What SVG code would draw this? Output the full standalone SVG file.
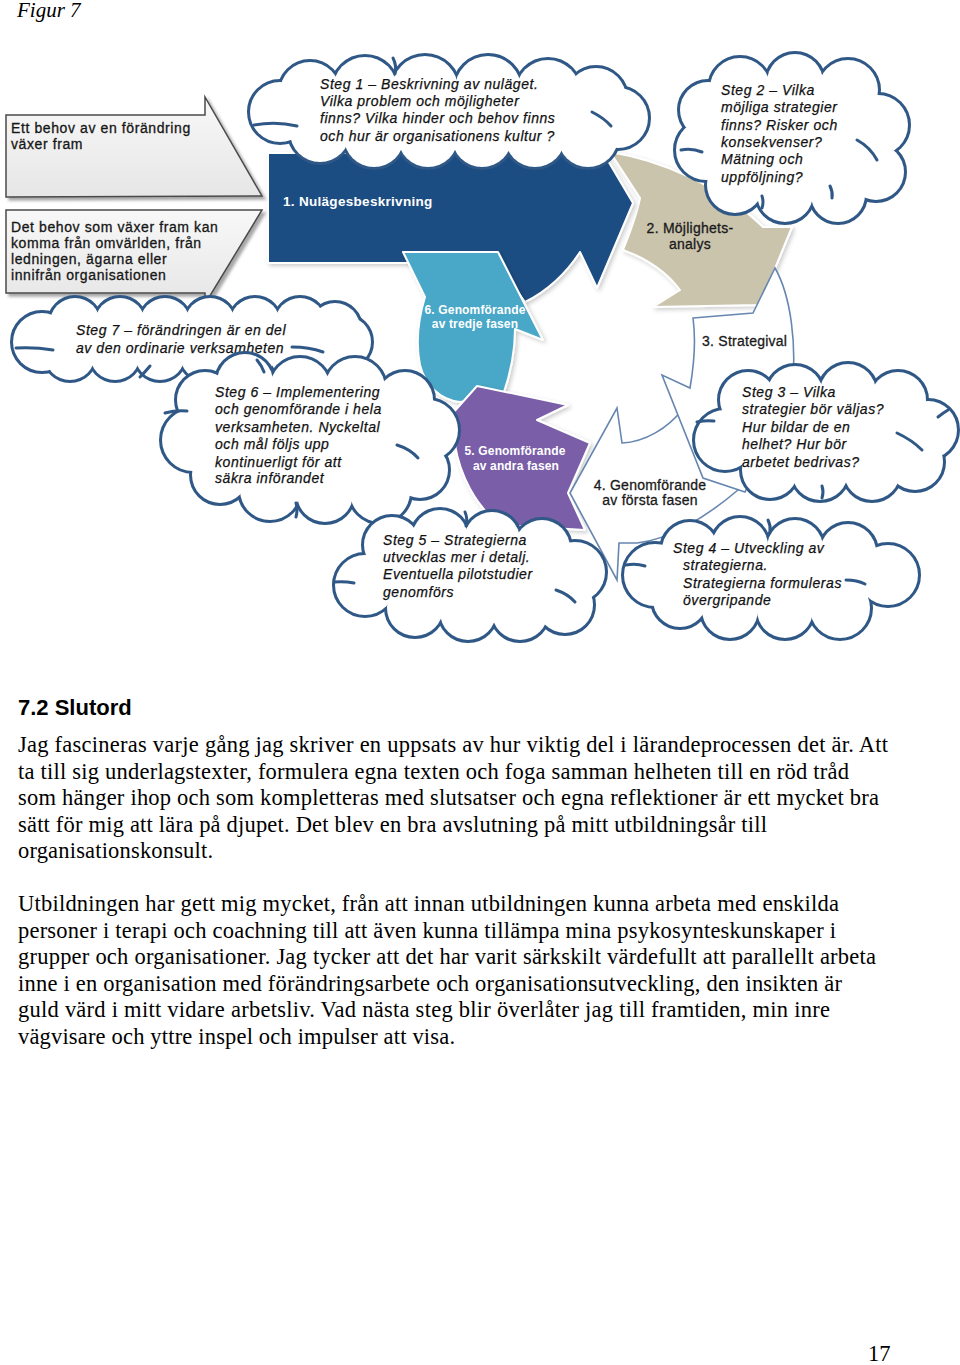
<svg xmlns="http://www.w3.org/2000/svg" xmlns:xlink="http://www.w3.org/1999/xlink" width="960" height="1365" viewBox="0 0 960 1365">
<style>
.sans{font-family:"Liberation Sans",Arial,sans-serif}
.lbl{font-family:"Liberation Sans",Arial,sans-serif;font-size:14px;letter-spacing:0.25px;fill:#1a1a1a;stroke:#1a1a1a;stroke-width:0.3}
.wl{font-family:"Liberation Sans",Arial,sans-serif;font-size:12px;font-weight:bold;letter-spacing:0.15px;fill:#ffffff}
.cl{font-family:"Liberation Sans",Arial,sans-serif;font-size:14px;font-style:italic;letter-spacing:0.55px;fill:#111;stroke:#111;stroke-width:0.25}
.bl{font-family:"Liberation Sans",Arial,sans-serif;font-size:14px;letter-spacing:0.6px;fill:#161616;stroke:#161616;stroke-width:0.3}
.body{font-family:"Liberation Serif","Times New Roman",serif;font-size:22.5px;fill:#000}
.co{fill:#2f5886;stroke:#2f5886;stroke-width:6}
.cf{fill:#ffffff;stroke:none}
.ca{fill:none;stroke:#2f5886;stroke-width:3;stroke-linecap:round}
.blk{fill:url(#gg);stroke:#4a4a4a;stroke-width:1.5;filter:url(#sh)}
.wa{fill:#ffffff;stroke:#6787b0;stroke-width:1.6;stroke-linejoin:miter}
.ca2{stroke:#ffffff;stroke-width:2;stroke-linejoin:round}
</style>
<defs>
<filter id="sh" x="-10%" y="-10%" width="130%" height="130%"><feDropShadow dx="3" dy="3" stdDeviation="1.5" flood-color="#000" flood-opacity="0.35"/></filter>
<filter id="sh2" x="-10%" y="-10%" width="130%" height="130%"><feDropShadow dx="2" dy="2" stdDeviation="2" flood-color="#000" flood-opacity="0.2"/></filter>
<linearGradient id="gg" x1="0" y1="0" x2="0" y2="1"><stop offset="0" stop-color="#f8f8f8"/><stop offset="1" stop-color="#e6e6e6"/></linearGradient>
<g id="cs1"><circle cx="280" cy="112" r="30"/><circle cx="310" cy="92" r="30"/><circle cx="365" cy="89" r="32"/><circle cx="425" cy="89" r="33"/><circle cx="488" cy="89" r="33"/><circle cx="548" cy="92" r="32"/><circle cx="596" cy="98" r="30"/><circle cx="618" cy="118" r="30"/><circle cx="588" cy="137" r="30"/><circle cx="535" cy="137" r="30"/><circle cx="482" cy="137" r="30"/><circle cx="428" cy="137" r="30"/><circle cx="374" cy="137" r="30"/><circle cx="320" cy="132" r="30"/></g>
<g id="cs2"><circle cx="708" cy="110" r="28"/><circle cx="740" cy="88" r="30"/><circle cx="795" cy="82" r="28"/><circle cx="848" cy="90" r="30"/><circle cx="878" cy="125" r="30"/><circle cx="876" cy="172" r="28"/><circle cx="838" cy="195" r="27"/><circle cx="785" cy="194" r="28"/><circle cx="735" cy="185" r="28"/><circle cx="706" cy="150" r="30"/></g>
<g id="cs3"><circle cx="725" cy="440" r="30"/><circle cx="748" cy="400" r="28"/><circle cx="795" cy="394" r="28"/><circle cx="848" cy="392" r="28"/><circle cx="898" cy="400" r="28"/><circle cx="928" cy="430" r="29"/><circle cx="915" cy="462" r="28"/><circle cx="872" cy="472" r="28"/><circle cx="820" cy="472" r="28"/><circle cx="770" cy="470" r="28"/></g>
<g id="cs4"><circle cx="655" cy="575" r="31"/><circle cx="690" cy="550" r="28"/><circle cx="740" cy="546" r="28"/><circle cx="795" cy="548" r="28"/><circle cx="848" cy="552" r="28"/><circle cx="888" cy="575" r="30"/><circle cx="840" cy="608" r="30"/><circle cx="785" cy="610" r="28"/><circle cx="730" cy="610" r="28"/><circle cx="680" cy="600" r="27"/></g>
<g id="cs5"><circle cx="365" cy="585" r="30"/><circle cx="392" cy="545" r="28"/><circle cx="440" cy="538" r="28"/><circle cx="492" cy="540" r="28"/><circle cx="542" cy="548" r="28"/><circle cx="575" cy="572" r="30"/><circle cx="565" cy="605" r="28"/><circle cx="520" cy="612" r="28"/><circle cx="468" cy="612" r="28"/><circle cx="415" cy="608" r="28"/></g>
<g id="cs6"><circle cx="193" cy="440" r="31"/><circle cx="205" cy="400" r="28"/><circle cx="245" cy="382" r="28"/><circle cx="300" cy="388" r="30"/><circle cx="355" cy="388" r="30"/><circle cx="405" cy="400" r="28"/><circle cx="428" cy="430" r="30"/><circle cx="420" cy="470" r="28"/><circle cx="380" cy="492" r="30"/><circle cx="325" cy="494" r="28"/><circle cx="270" cy="490" r="30"/><circle cx="220" cy="475" r="28"/></g>
<g id="cs7"><circle cx="42" cy="342" r="29"/><circle cx="75" cy="323" r="25"/><circle cx="120" cy="323" r="25"/><circle cx="165" cy="323" r="25"/><circle cx="210" cy="323" r="25"/><circle cx="255" cy="323" r="25"/><circle cx="300" cy="323" r="25"/><circle cx="335" cy="328" r="25"/><circle cx="345" cy="342" r="26"/><circle cx="335" cy="355" r="25"/><circle cx="295" cy="355" r="25"/><circle cx="250" cy="355" r="25"/><circle cx="205" cy="355" r="25"/><circle cx="160" cy="355" r="25"/><circle cx="115" cy="355" r="25"/><circle cx="70" cy="355" r="25"/></g>
</defs>
<rect x="0" y="0" width="960" height="1365" fill="#ffffff"/>
<text x="17" y="17" font-family="Liberation Serif,'Times New Roman',serif" font-style="italic" font-size="21" fill="#000">Figur 7</text>

<g id="connectors">
<g id="arrow2" filter="url(#sh2)"><path d="M610,152 C660,160 720,185 763,227 L792,227 L760,305 L653,307 L680,290 C665,270 645,258 623,250 C630,232 637,215 640,198 Z" fill="#cbc4ad" class="ca2"/></g>
<g id="arrow1" filter="url(#sh2)"><path d="M268,153 L600,153 L601,149 L633,203 L597,288 L580,252 C565,275 545,292 525,302 L497,263 L268,263 Z" fill="#1f4d82" class="ca2"/></g>
<g id="arrow6" filter="url(#sh2)"><path d="M403,252 L498,252 L543,340 L515,329 C515,355 510,375 503,395 L460,402 C440,400 425,385 420,365 C416,345 418,320 425,297 Z" fill="#4aa7c7" class="ca2"/></g>
<g id="arrow5" filter="url(#sh2)"><path d="M477,386 L568,405 L537,420 L590,443 L568,493 L585,530 L500,525 C475,505 460,475 455,445 C453,430 452,420 452,414 Z" fill="#7a5ea8" class="ca2"/></g>
<g id="arrow4"><path class="wa" d="M617,408 L622,443 C645,442 668,428 682,410 L745,480 L738,490 C705,518 668,540 637,543 L619,543 L617,580 L570,493 Z"/></g>
<g id="arrow3"><path class="wa" d="M693,318 L753,313 L775,268 C791,296 797,345 792,390 L745,492 L703,478 L662,375 L690,388 C694,365 696,340 693,318 Z"/></g>
</g>

<g id="labels-arrows">
<text class="wl" x="283" y="206" style="font-size:13.5px;letter-spacing:0.3px">1. Nulägesbeskrivning</text>
<text class="lbl" x="690" y="233" text-anchor="middle">2. Möjlighets-</text>
<text class="lbl" x="690" y="249" text-anchor="middle">analys</text>
<text class="lbl" x="702" y="346">3. Strategival</text>
<text class="lbl" x="650" y="490" text-anchor="middle">4. Genomförande</text>
<text class="lbl" x="650" y="505" text-anchor="middle">av första fasen</text>
<text class="wl" x="515" y="455" text-anchor="middle">5. Genomförande</text>
<text class="wl" x="516" y="470" text-anchor="middle">av andra fasen</text>
<text class="wl" x="475" y="314" text-anchor="middle">6. Genomförande</text>
<text class="wl" x="475" y="328" text-anchor="middle">av tredje fasen</text>
</g>

<g id="need1">
<path class="blk" d="M6,115 L205,115 L205,97 L262,196 L6,197 Z"/>
<text class="bl" x="11" y="133">Ett behov av en förändring</text>
<text class="bl" x="11" y="149">växer fram</text>
</g>
<g id="need2">
<path class="blk" d="M6,210 L262,210 L205,304 L205,293 L6,293 Z"/>
<text class="bl" x="11" y="232">Det behov som växer fram kan</text>
<text class="bl" x="11" y="248">komma från omvärlden, från</text>
<text class="bl" x="11" y="264">ledningen, ägarna eller</text>
<text class="bl" x="11" y="280">innifrån organisationen</text>
</g>

<g id="cloud1">
<use href="#cs1" class="co"/><use href="#cs1" class="cf"/>
<polygon class="cf" points="280,112 310,92 365,89 425,89 488,89 548,92 596,98 618,118 588,137 535,137 482,137 428,137 374,137 320,132"/>
<path class="ca" d="M254,125 Q276,121 297,126"/><path class="ca" d="M592,112 Q604,118 611,126"/><path class="ca" d="M393,58 Q397,66 395,74"/>
<text class="cl" x="320" y="89">Steg 1 – Beskrivning av nuläget.</text>
<text class="cl" x="320" y="106">Vilka problem och möjligheter</text>
<text class="cl" x="320" y="123">finns? Vilka hinder och behov finns</text>
<text class="cl" x="320" y="141">och hur är organisationens kultur ?</text>
</g>

<g id="cloud2">
<use href="#cs2" class="co"/><use href="#cs2" class="cf"/>
<polygon class="cf" points="708,110 740,88 795,82 848,90 878,125 876,172 838,195 785,194 735,185 706,150"/>
<path class="ca" d="M681,150 Q692,148 702,152"/><path class="ca" d="M857,140 Q870,147 877,160"/><path class="ca" d="M762,196 Q764,202 762,208"/><path class="ca" d="M830,186 Q833,192 832,198"/>
<text class="cl" x="721" y="95">Steg 2 – Vilka</text>
<text class="cl" x="721" y="112">möjliga strategier</text>
<text class="cl" x="721" y="130">finns? Risker och</text>
<text class="cl" x="721" y="147">konsekvenser?</text>
<text class="cl" x="721" y="164">Mätning och</text>
<text class="cl" x="721" y="182">uppföljning?</text>
</g>

<g id="cloud7">
<use href="#cs7" class="co"/><use href="#cs7" class="cf"/>
<polygon class="cf" points="42,342 75,323 120,323 165,323 210,323 255,323 300,323 335,328 345,342 335,355 295,355 250,355 205,355 160,355 115,355 70,355"/>
<path class="ca" d="M16,348 Q35,347 53,350"/><path class="ca" d="M292,347 Q309,347 323,352"/><path class="ca" d="M140,377 Q145,372 150,366"/>
<text class="cl" x="76" y="335">Steg 7 – förändringen är en del</text>
<text class="cl" x="76" y="353">av den ordinarie verksamheten</text>
</g>

<g id="cloud6">
<use href="#cs6" class="co"/><use href="#cs6" class="cf"/>
<polygon class="cf" points="193,440 205,400 245,382 300,388 355,388 405,400 428,430 420,470 380,492 325,494 270,490 220,475"/>
<path class="ca" d="M165,413 Q176,410 187,411"/><path class="ca" d="M397,445 Q410,449 418,458"/><path class="ca" d="M257,360 Q262,366 264,372"/><path class="ca" d="M296,517 Q298,510 296,503"/>
<text class="cl" x="215" y="397">Steg 6 – Implementering</text>
<text class="cl" x="215" y="414">och genomförande i hela</text>
<text class="cl" x="215" y="432">verksamheten. Nyckeltal</text>
<text class="cl" x="215" y="449">och mål följs upp</text>
<text class="cl" x="215" y="467">kontinuerligt för att</text>
<text class="cl" x="215" y="483">säkra införandet</text>
</g>

<g id="cloud5">
<use href="#cs5" class="co"/><use href="#cs5" class="cf"/>
<polygon class="cf" points="365,585 392,545 440,538 492,540 542,548 575,572 565,605 520,612 468,612 415,608"/>
<path class="ca" d="M334,582 Q344,581 354,583"/><path class="ca" d="M556,590 Q568,594 575,602"/><path class="ca" d="M465,512 Q468,519 466,526"/>
<text class="cl" x="383" y="545">Steg 5 – Strategierna</text>
<text class="cl" x="383" y="562">utvecklas mer i detalj.</text>
<text class="cl" x="383" y="579">Eventuella pilotstudier</text>
<text class="cl" x="383" y="597">genomförs</text>
</g>

<g id="cloud3">
<use href="#cs3" class="co"/><use href="#cs3" class="cf"/>
<polygon class="cf" points="725,440 748,400 795,394 848,392 898,400 928,430 915,462 872,472 820,472 770,470"/>
<path class="ca" d="M697,422 Q706,420 714,421"/><path class="ca" d="M897,433 Q912,440 922,450"/><path class="ca" d="M938,417 Q943,413 948,410"/><path class="ca" d="M822,498 Q824,492 822,486"/>
<text class="cl" x="742" y="397">Steg 3 – Vilka</text>
<text class="cl" x="742" y="414">strategier bör väljas?</text>
<text class="cl" x="742" y="432">Hur bildar de en</text>
<text class="cl" x="742" y="449">helhet? Hur bör</text>
<text class="cl" x="742" y="467">arbetet bedrivas?</text>
</g>

<g id="cloud4">
<use href="#cs4" class="co"/><use href="#cs4" class="cf"/>
<polygon class="cf" points="655,575 690,550 740,546 795,548 848,552 888,575 840,608 785,610 730,610 680,600"/>
<path class="ca" d="M626,565 Q636,563 645,566"/><path class="ca" d="M846,580 Q857,580 865,584"/><path class="ca" d="M768,520 Q771,526 770,532"/>
<text class="cl" x="673" y="553">Steg 4 – Utveckling av</text>
<text class="cl" x="683" y="570">strategierna.</text>
<text class="cl" x="683" y="588">Strategierna formuleras</text>
<text class="cl" x="683" y="605">övergripande</text>
</g>

<g id="textblock">
<text class="sans" x="18" y="715" font-size="22" font-weight="bold" fill="#000">7.2 Slutord</text>
<text class="body" x="18" y="752" textLength="870" lengthAdjust="spacing">Jag fascineras varje gång jag skriver en uppsats av hur viktig del i lärandeprocessen det är. Att</text>
<text class="body" x="18" y="778.5" textLength="831" lengthAdjust="spacing">ta till sig underlagstexter, formulera egna texten och foga samman helheten till en röd tråd</text>
<text class="body" x="18" y="805" textLength="861" lengthAdjust="spacing">som hänger ihop och som kompletteras med slutsatser och egna reflektioner är ett mycket bra</text>
<text class="body" x="18" y="831.5" textLength="749" lengthAdjust="spacing">sätt för mig att lära på djupet. Det blev en bra avslutning på mitt utbildningsår till</text>
<text class="body" x="18" y="858" textLength="195" lengthAdjust="spacing">organisationskonsult.</text>
<text class="body" x="18" y="911" textLength="821" lengthAdjust="spacing">Utbildningen har gett mig mycket, från att innan utbildningen kunna arbeta med enskilda</text>
<text class="body" x="18" y="937.5" textLength="818" lengthAdjust="spacing">personer i terapi och coachning till att även kunna tillämpa mina psykosynteskunskaper i</text>
<text class="body" x="18" y="964" textLength="858" lengthAdjust="spacing">grupper och organisationer. Jag tycker att det har varit särkskilt värdefullt att parallellt arbeta</text>
<text class="body" x="18" y="990.5" textLength="824" lengthAdjust="spacing">inne i en organisation med förändringsarbete och organisationsutveckling, den insikten är</text>
<text class="body" x="18" y="1017" textLength="812" lengthAdjust="spacing">guld värd i mitt vidare arbetsliv. Vad nästa steg blir överlåter jag till framtiden, min inre</text>
<text class="body" x="18" y="1043.5" textLength="437" lengthAdjust="spacing">vägvisare och yttre inspel och impulser att visa.</text>
<text class="body" x="868" y="1361" font-size="21">17</text>
</g>
</svg>
